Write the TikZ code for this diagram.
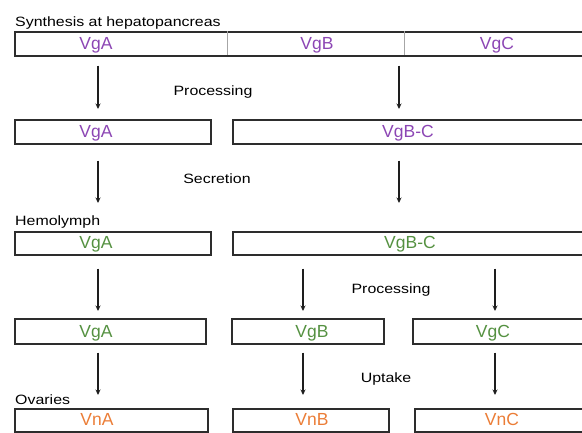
\documentclass[tikz,border=0pt]{standalone}
\usepackage{fontspec}
\setmainfont{Liberation Sans}
\newfontfamily\labfont[FakeStretch=1.18]{Liberation Sans}
\usetikzlibrary{arrows.meta}
\definecolor{vpurple}{RGB}{140,70,180}
\definecolor{vgreen}{RGB}{85,145,65}
\definecolor{vorange}{RGB}{235,125,55}
\definecolor{boxc}{RGB}{45,45,45}
\definecolor{arrc}{RGB}{30,30,30}
\begin{document}
\begin{tikzpicture}[x=1pt,y=-1pt,
  box/.style={draw=boxc, line width=1.6pt, inner sep=0pt, anchor=north west},
  vtext/.style={inner sep=0pt, anchor=base, font=\fontsize{17.5}{18}\selectfont},
  lab/.style={inner sep=0pt, font=\labfont\fontsize{13.5}{14}\selectfont},
  divider/.style={draw=gray!70, line width=0.6pt},
  arr/.style={draw=arrc, line width=1.3pt, -{Stealth[length=5.5pt,width=5pt]}}
]
\useasboundingbox (0,0) rectangle (582,432);
% column coordinates for arrows
\coordinate (cA) at (98,0);
\coordinate (cB) at (399,0);
\coordinate (cB2) at (303,0);
\coordinate (cC2) at (495,0);

% labels
\node[lab, anchor=base west] (lsyn) at (15,26) {Synthesis at hepatopancreas};
\node[lab, anchor=base] (lproc1) at (213,95) {Processing};
\node[lab, anchor=base] (lsec) at (217,183) {Secretion};
\node[lab, anchor=base west] (lhemo) at (15,225) {Hemolymph};
\node[lab, anchor=base] (lproc2) at (391,293) {Processing};
\node[lab, anchor=base] (lupt) at (386,382) {Uptake};
\node[lab, anchor=base west] (lova) at (15,404) {Ovaries};

% row 1
\node[box, minimum width=578, minimum height=24] (r1) at (14,31) {};
\draw[divider] (227,31) -- (227,55);
\draw[divider] (404,31) -- (404,55);
\node[vtext, text=vpurple] (t1A) at (96,49) {VgA};
\node[vtext, text=vpurple] (t1B) at (317,49) {VgB};
\node[vtext, text=vpurple] (t1C) at (497,49) {VgC};

% row 2
\node[box, minimum width=196, minimum height=24] (r2A) at (14,119) {};
\node[box, minimum width=360, minimum height=24] (r2BC) at (232,119) {};
\node[vtext, text=vpurple] (t2A) at (96,137) {VgA};
\node[vtext, text=vpurple] (t2BC) at (408,137) {VgB-C};

% row 3
\node[box, minimum width=196, minimum height=23] (r3A) at (14,231) {};
\node[box, minimum width=360, minimum height=23] (r3BC) at (232,231) {};
\node[vtext, text=vgreen] (t3A) at (96,248) {VgA};
\node[vtext, text=vgreen] (t3BC) at (410,248) {VgB-C};

% row 4
\node[box, minimum width=191, minimum height=25] (r4A) at (14,318) {};
\node[box, minimum width=152, minimum height=25] (r4B) at (231,318) {};
\node[box, minimum width=180, minimum height=25] (r4C) at (412,318) {};
\node[vtext, text=vgreen] (t4A) at (96,337) {VgA};
\node[vtext, text=vgreen] (t4B) at (312,337) {VgB};
\node[vtext, text=vgreen] (t4C) at (493,337) {VgC};

% row 5
\node[box, minimum width=193, minimum height=23] (r5A) at (14,408) {};
\node[box, minimum width=156, minimum height=23] (r5B) at (232,408) {};
\node[box, minimum width=178, minimum height=23] (r5C) at (414,408) {};
\node[vtext, text=vorange] (t5A) at (97,425) {VnA};
\node[vtext, text=vorange] (t5B) at (312,425) {VnB};
\node[vtext, text=vorange] (t5C) at (502,425) {VnC};

% arrows row1 -> row2
\draw[arr, shorten <=9pt, shorten >=10pt] (r1.south -| cA) -- (r2A.north -| cA);
\draw[arr, shorten <=9pt, shorten >=10pt] (r1.south -| cB) -- (r2BC.north -| cB);
% row2 -> row3
\draw[arr, shorten <=16pt, shorten >=28pt] (r2A.south -| cA) -- (r3A.north -| cA);
\draw[arr, shorten <=16pt, shorten >=28pt] (r2BC.south -| cB) -- (r3BC.north -| cB);
% row3 -> row4
\draw[arr, shorten <=13pt, shorten >=7pt] (r3A.south -| cA) -- (r4A.north -| cA);
\draw[arr, shorten <=13pt, shorten >=7pt] (r3BC.south -| cB2) -- (r4B.north -| cB2);
\draw[arr, shorten <=13pt, shorten >=7pt] (r3BC.south -| cC2) -- (r4C.north -| cC2);
% row4 -> row5
\draw[arr, shorten <=8pt, shorten >=13pt] (r4A.south -| cA) -- (r5A.north -| cA);
\draw[arr, shorten <=8pt, shorten >=13pt] (r4B.south -| cB2) -- (r5B.north -| cB2);
\draw[arr, shorten <=8pt, shorten >=13pt] (r4C.south -| cC2) -- (r5C.north -| cC2);
\end{tikzpicture}
\end{document}
